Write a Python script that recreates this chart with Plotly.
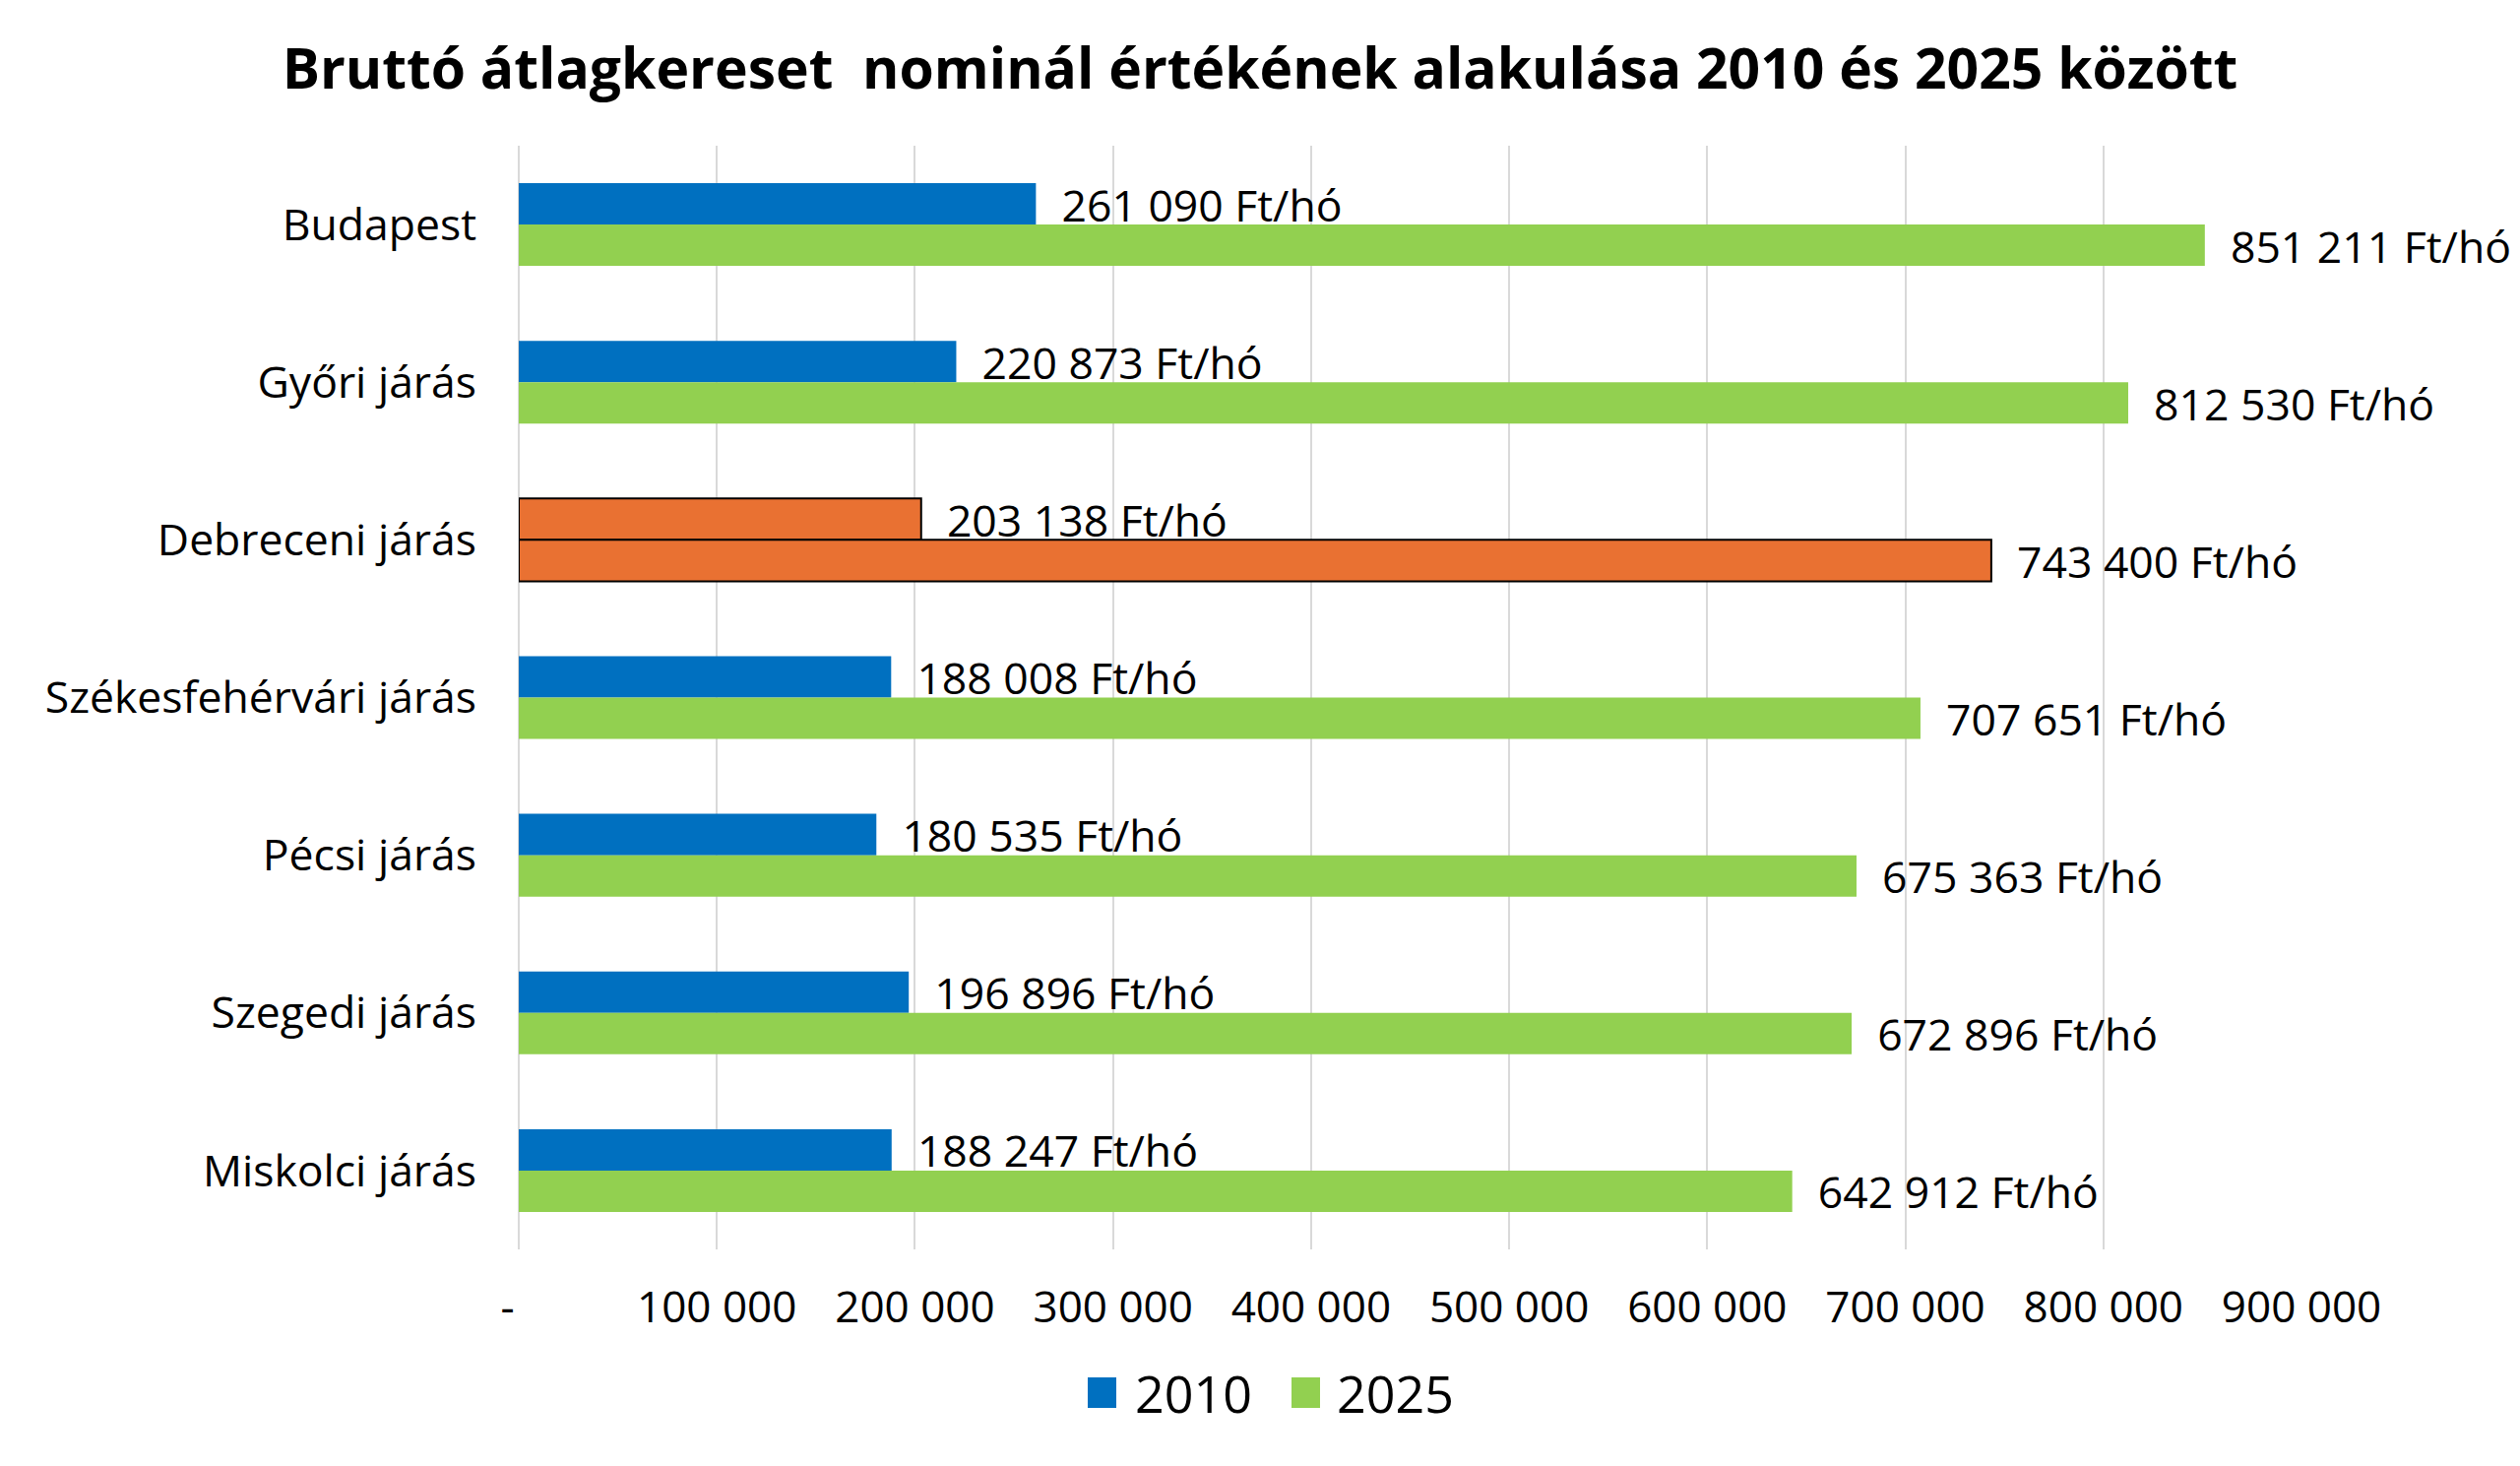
"""
Bruttó átlagkereset nominál értékének alakulása 2010 és 2025 között.
Horizontal grouped bar chart, the Debrecen district highlighted in orange.
"""

import plotly.graph_objects as go

# Data
categories = [
    "Budapest",
    "Győri járás",
    "Debreceni járás",
    "Székesfehérvári járás",
    "Pécsi járás",
    "Szegedi járás",
    "Miskolci járás",
]
wages_2010 = [261090, 220873, 203138, 188008, 180535, 196896, 188247]
wages_2025 = [851211, 812530, 743400, 707651, 675363, 672896, 642912]
highlight = "Debreceni járás"

tick_values = [0, 100000, 200000, 300000, 400000, 500000, 600000, 700000, 800000, 900000]
tick_labels = ["-\u00a0\u00a0", "100 000", "200 000", "300 000", "400 000", "500 000",
               "600 000", "700 000", "800 000", "900 000"]

series_names = ["2010", "2025"]

# Styling
BLUE = "#0070C0"
GREEN = "#92D050"
ORANGE = "#E97132"
GRID = "#D9D9D9"
FONT = "Open Sans"

W, H = 2560, 1489
PAGE_OFFSET = 8  # default body margin of the html page
# plot area on screen: x 527..2338, y 148..1269
MARGIN = dict(l=527 - PAGE_OFFSET, r=W + PAGE_OFFSET - 2338,
              t=148 - PAGE_OFFSET, b=H + PAGE_OFFSET - 1269)


def fmt_label(v):
    """Format a value like 261 090 Ft/hó, with a small gap in front."""
    return "\u00a0\u00a0" + f"{v:,}".replace(",", " ") + " Ft/hó"


def px_to_paper(x, y):
    """Convert screen pixels to paper coordinates of the plot area."""
    pw = W - MARGIN["l"] - MARGIN["r"]
    ph = H - MARGIN["t"] - MARGIN["b"]
    x -= PAGE_OFFSET
    y -= PAGE_OFFSET
    return (x - MARGIN["l"]) / pw, (H - MARGIN["b"] - y) / ph


def bar_trace(name, values, color):
    colors = [ORANGE if c == highlight else color for c in categories]
    line_w = [2 if c == highlight else 0 for c in categories]
    return go.Bar(
        name=name,
        y=categories,
        x=values,
        orientation="h",
        marker=dict(color=colors, line=dict(color="black", width=line_w)),
        text=[fmt_label(v) for v in values],
        textposition="outside",
        constraintext="none",
        cliponaxis=False,
        textfont=dict(family=FONT, size=44.5, color="black"),
        showlegend=False,
        hoverinfo="x+y",
    )


def main():
    fig = go.Figure()
    fig.add_trace(bar_trace(series_names[0], wages_2010, BLUE))
    fig.add_trace(bar_trace(series_names[1], wages_2025, GREEN))

    fig.update_layout(
        width=W,
        height=H,
        margin=MARGIN,
        paper_bgcolor="white",
        plot_bgcolor="white",
        barmode="group",
        bargap=0.475,
        bargroupgap=0,
        font=dict(family=FONT, size=44, color="black"),
        title=dict(
            text="Bruttó átlagkereset \u00a0nominál értékének alakulása 2010 és 2025 között",
            font=dict(family=FONT, size=57, color="black", weight="bold"),
            x=(1280 - PAGE_OFFSET) / W,
            xanchor="center",
            xref="container",
            y=1 - (70 - PAGE_OFFSET) / H,
            yanchor="middle",
            yref="container",
        ),
    )

    fig.update_xaxes(
        range=[0, 900000],
        tickvals=tick_values,
        ticktext=tick_labels,
        showgrid=True,
        gridcolor=GRID,
        gridwidth=2,
        zeroline=True,
        zerolinecolor=GRID,
        zerolinewidth=2,
        showline=False,
        ticks="",
        ticklabelstandoff=29,
        tickfont=dict(family=FONT, size=44, color="black"),
    )
    fig.update_yaxes(
        autorange="reversed",
        showgrid=False,
        showline=False,
        ticks="",
        ticklabelstandoff=42,
        tickfont=dict(family=FONT, size=44.5, color="black"),
    )

    # Legend drawn by hand so the swatches can be as large as in the original
    swatches = [(1105, "2010", BLUE, 1151), (1312, "2025", GREEN, 1356)]
    for sx, label, color, tx in swatches:
        x0, y0 = px_to_paper(sx, 1430)
        x1, y1 = px_to_paper(sx + 29, 1399)
        fig.add_shape(type="rect", xref="paper", yref="paper",
                      x0=x0, y0=y0, x1=x1, y1=y1,
                      fillcolor=color, line=dict(width=0))
        ax, ay = px_to_paper(tx, 1414)
        fig.add_annotation(text=label, xref="paper", yref="paper",
                           x=ax, y=ay, xanchor="left", yanchor="middle",
                           showarrow=False,
                           font=dict(family=FONT, size=52, color="black"))

    fig.write_html("out.html")


if __name__ == "__main__":
    main()
